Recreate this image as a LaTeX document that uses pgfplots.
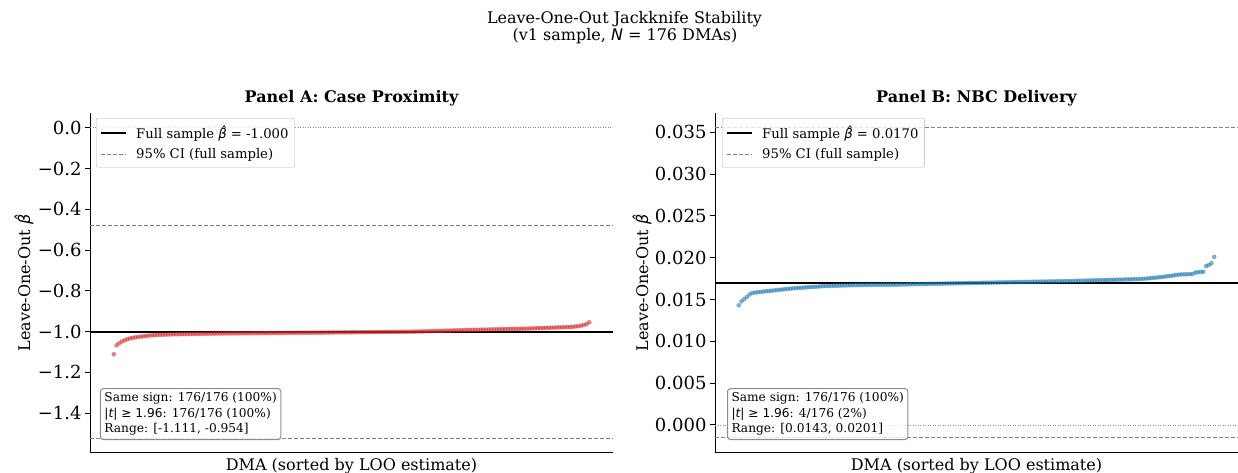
\documentclass[border=0pt]{standalone}
\usepackage{fontspec}
\setmainfont{DejaVu Serif}
\newfontfamily\dvs{DejaVu Sans}
\usepackage{pgfplots}
\usepackage{pgfplotstable}
\pgfplotsset{compat=1.18}

\newcommand{\mi}[1]{{\dvs\itshape #1}}
\newcommand{\bh}{\mi{β̂}}
\newcommand{\fs}[2]{\fontsize{#1}{#2}\selectfont}

\definecolor{ptred}{RGB}{214,39,40}
\definecolor{ptblue}{RGB}{31,119,180}

\pgfplotstableread{
v
-1.111
-1.067
-1.057
-1.048
-1.042
-1.037
-1.033
-1.030
-1.028
-1.026
-1.024
-1.023
-1.021
-1.019
-1.018
-1.017
-1.016
-1.0155
-1.015
-1.0145
-1.014
-1.0135
-1.0131
-1.0128
-1.0126
-1.0123
-1.0121
-1.0118
-1.0115
-1.0113
-1.0110
-1.0108
-1.0105
-1.0103
-1.0100
-1.0098
-1.0097
-1.0095
-1.0094
-1.0092
-1.0091
-1.0090
-1.0088
-1.0087
-1.0085
-1.0084
-1.0082
-1.0081
-1.0080
-1.0079
-1.0078
-1.0077
-1.0075
-1.0074
-1.0073
-1.0072
-1.0071
-1.0070
-1.0068
-1.0067
-1.0066
-1.0065
-1.0064
-1.0063
-1.0061
-1.0060
-1.0059
-1.0058
-1.0057
-1.0056
-1.0054
-1.0053
-1.0052
-1.0051
-1.0050
-1.0049
-1.0048
-1.0046
-1.0045
-1.0043
-1.0042
-1.0041
-1.0039
-1.0038
-1.0036
-1.0035
-1.0034
-1.0032
-1.0031
-1.0029
-1.0028
-1.0027
-1.0025
-1.0024
-1.0022
-1.0021
-1.0020
-1.0018
-1.0017
-1.0015
-1.0014
-1.0013
-1.0011
-1.0010
-1.0008
-1.0007
-1.0006
-1.0004
-1.0003
-1.0001
-1.0000
-0.9997
-0.9993
-0.9989
-0.9985
-0.9981
-0.9977
-0.9973
-0.9969
-0.9965
-0.9961
-0.9957
-0.9953
-0.9949
-0.9945
-0.9941
-0.9937
-0.9933
-0.9929
-0.9925
-0.9921
-0.9918
-0.9915
-0.9912
-0.9909
-0.9905
-0.9902
-0.9899
-0.9896
-0.9893
-0.9889
-0.9886
-0.9883
-0.9880
-0.9877
-0.9873
-0.9870
-0.9867
-0.9864
-0.9861
-0.9857
-0.9854
-0.9851
-0.9847
-0.9842
-0.9837
-0.9832
-0.9827
-0.9822
-0.9817
-0.9812
-0.9807
-0.9802
-0.9797
-0.9792
-0.9787
-0.9782
-0.9777
-0.9772
-0.9760
-0.9745
-0.9728
-0.9705
-0.9675
-0.9630
-0.9540
}\dataA

\pgfplotstableread{
v
0.01431
0.01478
0.01505
0.01530
0.01560
0.01578
0.01583
0.01587
0.01591
0.01595
0.01598
0.01601
0.01605
0.01609
0.01612
0.01616
0.01620
0.01623
0.01627
0.01630
0.01634
0.01637
0.01639
0.01641
0.01643
0.01646
0.01648
0.01650
0.01652
0.01654
0.01657
0.01659
0.01661
0.01662
0.01663
0.01664
0.01665
0.01666
0.01667
0.01668
0.01669
0.01670
0.01671
0.01672
0.01673
0.01673
0.01674
0.01674
0.01675
0.01675
0.01675
0.01676
0.01676
0.01676
0.01677
0.01677
0.01677
0.01678
0.01678
0.01678
0.01679
0.01680
0.016810
0.016817
0.016824
0.016831
0.016838
0.016845
0.016852
0.016859
0.016866
0.016873
0.016880
0.016887
0.016894
0.016901
0.016908
0.016915
0.016922
0.016929
0.016936
0.016943
0.016950
0.016957
0.016964
0.016971
0.016978
0.016985
0.016992
0.016999
0.017006
0.017012
0.017018
0.017025
0.017031
0.017038
0.017044
0.017050
0.017057
0.017063
0.017070
0.017076
0.017083
0.017089
0.017096
0.017102
0.017108
0.017115
0.017121
0.017128
0.017134
0.017141
0.017147
0.017154
0.017160
0.017166
0.017173
0.017179
0.017186
0.017192
0.017199
0.017205
0.017212
0.017220
0.017229
0.017238
0.017248
0.017257
0.017266
0.017275
0.017284
0.017294
0.017303
0.017312
0.017321
0.017330
0.017340
0.017349
0.017358
0.017367
0.017376
0.017386
0.017395
0.017404
0.017413
0.017422
0.017432
0.017441
0.017450
0.01748
0.01751
0.01754
0.01757
0.01760
0.01763
0.01767
0.01771
0.01775
0.01779
0.01783
0.01787
0.01795
0.01798
0.01800
0.01801
0.01802
0.01803
0.01805
0.01822
0.01826
0.01829
0.01832
0.01900
0.01912
0.01935
0.02010
}\dataB

\pgfplotsset{
  loo/.style={
    scale only axis,
    width=523pt, height=340pt,
    axis x line*=bottom, axis y line*=left,
    axis line style={line width=1pt, black, -},
    xmin=-8.75, xmax=183.75, xtick=\empty,
    scaled y ticks=false,
    tick align=outside, major tick length=5pt,
    every tick/.style={line width=1pt, black},
    yticklabel style={font=\fs{18}{21}},
    legend cell align=left,
    legend style={font=\fs{13.2}{16}, draw=black!30, rounded corners=2pt, fill=white,
      fill opacity=0.8, text opacity=1, inner xsep=4pt, inner ysep=5.5pt,
      row sep=4pt, anchor=north west,
      /tikz/every odd column/.append style={column sep=7pt}},
    legend image code/.code={\draw[##1] (0pt,0pt) -- (25pt,0pt);},
  },
}

\begin{document}
\begin{tikzpicture}[x=1pt,y=1pt]
\useasboundingbox (0,0) rectangle (1238,473);

\node[anchor=base, font=\fs{16}{19}] at (624.5,449) {Leave-One-Out Jackknife Stability};
\node[anchor=base, font=\fs{16}{19}] at (625,432.3) {(v1 sample, \mi{N} = 176 DMAs)};

% Panel A
\begin{axis}[loo, at={(90pt,20pt)}, anchor=south west,
  ymin=-1.595, ymax=0.072,
  ytick={-1.4,-1.2,-1.0,-0.8,-0.6,-0.4,-0.2,0.0},
  yticklabels={−1.4,−1.2,−1.0,−0.8,−0.6,−0.4,−0.2,0.0},
  legend style={at={(rel axis cs:0.0115,0.985)}}]
\addplot[black, line width=2pt] coordinates {(-8.75,-1.000) (183.75,-1.000)};
\addlegendentry{Full sample \bh{} = -1.000}
\addplot[black!50, line width=1pt, dash pattern=on 4pt off 2pt] coordinates {(-8.75,-0.478) (183.75,-0.478)};
\addlegendentry{95\% CI (full sample)}
\addplot[forget plot, black!50, line width=1pt, dash pattern=on 4pt off 2pt] coordinates {(-8.75,-1.522) (183.75,-1.522)};
\addplot[forget plot, black!45, line width=0.8pt, dash pattern=on 1pt off 1.5pt] coordinates {(-8.75,0) (183.75,0)};
\addplot[forget plot, only marks, mark=*, mark size=2.3pt, color=ptred,
  mark options={fill=ptred, draw=ptred, fill opacity=0.6, draw opacity=0}]
  table[x expr=\coordindex, y=v] {\dataA};
\node[anchor=south west, draw=black!45, line width=1pt, rounded corners=3pt, fill=white,
  fill opacity=0.8, text opacity=1, align=left, font=\fs{12.2}{15.5}, inner sep=4pt]
  at (rel axis cs:0.0191,0.038)
  {Same sign: 176/176 (100\%)\\{\dvs|\mi{t}| ≥ 1.96}: 176/176 (100\%)\\Range: [-1.111, -0.954]};
\end{axis}
\node[anchor=base, font=\bfseries\fs{16}{19}] at (351.5,370) {Panel A: Case Proximity};
\node[anchor=base, font=\fs{16}{19}] at (351.5,2) {DMA (sorted by LOO estimate)};
\node[rotate=90, anchor=center, font=\fs{16}{19}] at (24,190) {Leave-One-Out \bh};

% Panel B
\begin{axis}[loo, at={(715pt,20pt)}, anchor=south west,
  ymin=-0.00336, ymax=0.03731,
  ytick={0,0.005,0.010,0.015,0.020,0.025,0.030,0.035},
  yticklabels={0.000,0.005,0.010,0.015,0.020,0.025,0.030,0.035},
  legend style={at={(rel axis cs:0.0134,0.985)}}]
\addplot[black, line width=2pt] coordinates {(-8.75,0.0170) (183.75,0.0170)};
\addlegendentry{Full sample \bh{} = 0.0170}
\addplot[black!50, line width=1pt, dash pattern=on 4pt off 2pt] coordinates {(-8.75,0.03555) (183.75,0.03555)};
\addlegendentry{95\% CI (full sample)}
\addplot[forget plot, black!50, line width=1pt, dash pattern=on 4pt off 2pt] coordinates {(-8.75,-0.00155) (183.75,-0.00155)};
\addplot[forget plot, black!45, line width=0.8pt, dash pattern=on 1pt off 1.5pt] coordinates {(-8.75,0) (183.75,0)};
\addplot[forget plot, only marks, mark=*, mark size=2.3pt, color=ptblue,
  mark options={fill=ptblue, draw=ptblue, fill opacity=0.6, draw opacity=0}]
  table[x expr=\coordindex, y=v] {\dataB};
\node[anchor=south west, draw=black!45, line width=1pt, rounded corners=3pt, fill=white,
  fill opacity=0.8, text opacity=1, align=left, font=\fs{12.2}{15.5}, inner sep=4pt]
  at (rel axis cs:0.023,0.038)
  {Same sign: 176/176 (100\%)\\{\dvs|\mi{t}| ≥ 1.96}: 4/176 (2\%)\\Range: [0.0143, 0.0201]};
\end{axis}
\node[anchor=base, font=\bfseries\fs{16}{19}] at (976.5,370) {Panel B: NBC Delivery};
\node[anchor=base, font=\fs{16}{19}] at (976.5,2) {DMA (sorted by LOO estimate)};
\node[rotate=90, anchor=center, font=\fs{16}{19}] at (642,190) {Leave-One-Out \bh};
\end{tikzpicture}
\end{document}
